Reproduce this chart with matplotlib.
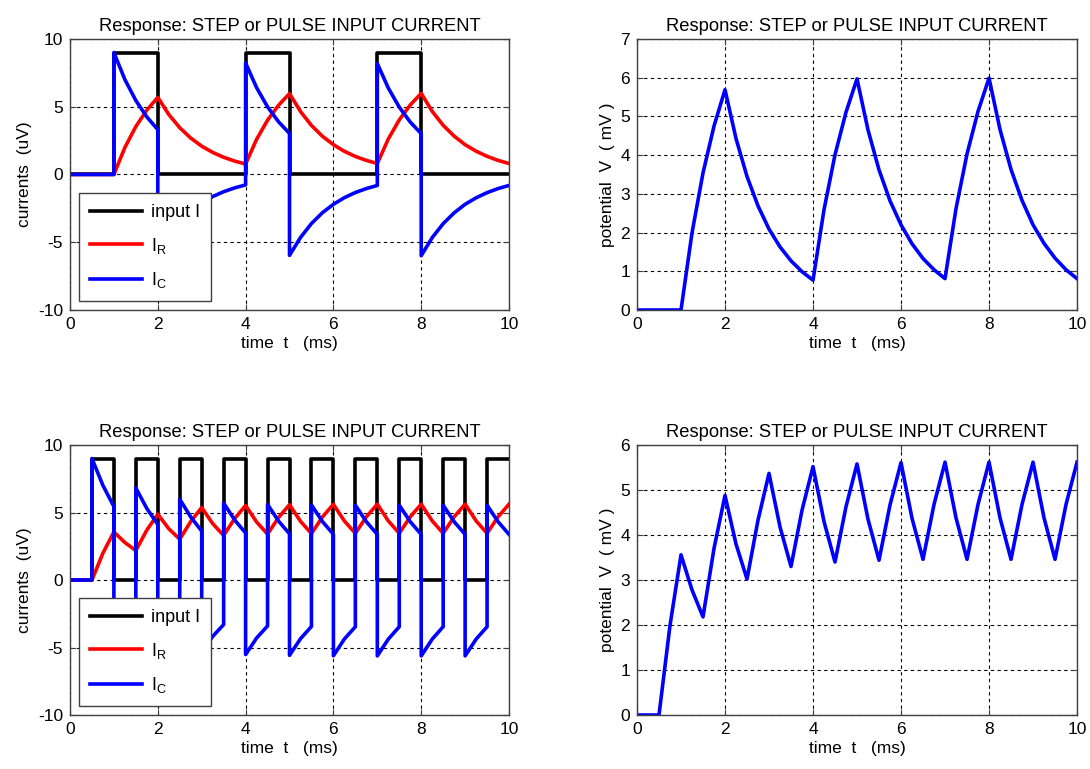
import matplotlib
matplotlib.use("Agg")
import matplotlib.pyplot as plt

plt.rcParams['font.family'] = ['Liberation Sans', 'DejaVu Sans']
plt.rcParams['mathtext.fontset'] = 'custom'
plt.rcParams['mathtext.rm'] = 'Liberation Sans'
plt.rcParams['axes.unicode_minus'] = False

# ---- top row: single pulses of 1 ms every 3 ms ----
t_in_top = [0, 1, 2, 4, 5, 7, 8, 10]
i_in_top = [0, 9, 0, 9, 0, 9, 0, 0]

t_top = [0, 0.25, 0.5, 0.75, 1, 1.25, 1.5, 1.75, 2, 2.25, 2.5, 2.75, 3, 3.25, 3.5, 3.75,
         4, 4.25, 4.5, 4.75, 5, 5.25, 5.5, 5.75, 6, 6.25, 6.5, 6.75, 7, 7.25, 7.5, 7.75,
         8, 8.25, 8.5, 8.75, 9, 9.25, 9.5, 9.75, 10]
ir_top = [0, 0, 0, 0, 0, 1.99, 3.54, 4.75, 5.69, 4.43, 3.45, 2.69, 2.09, 1.63, 1.27, 0.99,
          0.77, 2.59, 4.01, 5.11, 5.97, 4.65, 3.62, 2.82, 2.20, 1.71, 1.33, 1.04, 0.81, 2.62,
          4.03, 5.13, 5.99, 4.66, 3.63, 2.83, 2.20, 1.72, 1.34, 1.04, 0.81]

t_c_top = [0, 1, 1, 1.25, 1.5, 1.75, 2, 2, 2.25, 2.5, 2.75, 3, 3.25, 3.5, 3.75, 4, 4,
           4.25, 4.5, 4.75, 5, 5, 5.25, 5.5, 5.75, 6, 6.25, 6.5, 6.75, 7, 7,
           7.25, 7.5, 7.75, 8, 8, 8.25, 8.5, 8.75, 9, 9.25, 9.5, 9.75, 10]
ic_top = [0, 0, 9, 7.01, 5.46, 4.25, 3.31, -5.69, -4.43, -3.45, -2.69, -2.09, -1.63, -1.27, -0.99, -0.77, 8.23,
          6.41, 4.99, 3.89, 3.03, -5.97, -4.65, -3.62, -2.82, -2.20, -1.71, -1.33, -1.04, -0.81, 8.19,
          6.38, 4.97, 3.87, 3.01, -5.99, -4.66, -3.63, -2.83, -2.20, -1.72, -1.34, -1.04, -0.81]

# ---- bottom row: 0.5 ms pulses every 1 ms ----
t_in_bot = [0, 0.5, 1, 1.5, 2, 2.5, 3, 3.5, 4, 4.5, 5, 5.5, 6, 6.5, 7, 7.5, 8, 8.5, 9, 9.5, 10]
i_in_bot = [0, 9, 0, 9, 0, 9, 0, 9, 0, 9, 0, 9, 0, 9, 0, 9, 0, 9, 0, 9, 9]

t_bot = t_top
ir_bot = [0, 0, 0, 1.99, 3.56, 2.78, 2.18, 3.70, 4.88, 3.80, 3.02, 4.33, 5.37, 4.18, 3.30,
          4.55, 5.52, 4.30, 3.40, 4.63, 5.58, 4.35, 3.44, 4.67, 5.61, 4.37, 3.46, 4.68, 5.62,
          4.38, 3.46, 4.68, 5.62, 4.38, 3.46, 4.68, 5.62, 4.38, 3.46, 4.68, 5.62]

t_c_bot = [0, 0.5, 0.5, 0.75, 1, 1, 1.25, 1.5, 1.5, 1.75, 2, 2, 2.25, 2.5, 2.5, 2.75, 3, 3,
           3.25, 3.5, 3.5, 3.75, 4, 4, 4.25, 4.5, 4.5, 4.75, 5, 5, 5.25, 5.5, 5.5, 5.75, 6, 6,
           6.25, 6.5, 6.5, 6.75, 7, 7, 7.25, 7.5, 7.5, 7.75, 8, 8, 8.25, 8.5, 8.5, 8.75, 9, 9,
           9.25, 9.5, 9.5, 9.75, 10]
ic_bot = [0, 0, 9, 7.01, 5.44, -3.56, -2.78, -2.18, 6.82, 5.30, 4.12, -4.88, -3.80, -3.02, 5.98,
          4.67, 3.63, -5.37, -4.18, -3.30, 5.70, 4.45, 3.48, -5.52, -4.30, -3.40, 5.60, 4.37,
          3.42, -5.58, -4.35, -3.44, 5.56, 4.33, 3.39, -5.61, -4.37, -3.46, 5.54, 4.32, 3.38,
          -5.62, -4.38, -3.46, 5.54, 4.32, 3.38, -5.62, -4.38, -3.46, 5.54, 4.32, 3.38,
          -5.62, -4.38, -3.46, 5.54, 4.32, 3.38]

title = 'Response: STEP or PULSE INPUT CURRENT'
xlab = 'time  t   (ms)'

fig = plt.figure(figsize=(10.9, 7.69), dpi=100)
ax_tl = fig.add_axes([0.0642, 0.5969, 0.4028, 0.3524])
ax_tr = fig.add_axes([0.5844, 0.5969, 0.4037, 0.3524])
ax_bl = fig.add_axes([0.0642, 0.0702, 0.4028, 0.3511])
ax_br = fig.add_axes([0.5844, 0.0702, 0.4037, 0.3511])


def style(ax, ymin, ymax, yticks, ylabel):
    ax.set_xlim(0, 10)
    ax.set_ylim(ymin, ymax)
    ax.set_xticks(range(0, 11, 2))
    ax.set_yticks(yticks)
    ax.grid(True, color='black', linestyle=(0, (3, 3)), linewidth=0.8)
    ax.set_axisbelow(True)
    ax.tick_params(direction='in', length=4, labelsize=12.5, top=True, right=True,
                   color='#404040', pad=5)
    for s in ax.spines.values():
        s.set_color('#404040')
        s.set_linewidth(1.0)
    ax.set_title(title, fontsize=13.2, pad=6)
    ax.set_xlabel(xlab, fontsize=12.5, labelpad=3)
    ax.set_ylabel(ylabel, fontsize=12.5, labelpad=4)


def currents(ax, t_in, i_in, t, ir, t_c, ic):
    ax.plot(t_in, i_in, color='black', lw=2.6, drawstyle='steps-post', label='input I')
    ax.plot(t, ir, color='red', lw=2.6, solid_joinstyle='round', label=r'I$_\mathrm{R}$')
    ax.plot(t_c, ic, color='blue', lw=2.6, solid_joinstyle='round', label=r'I$_\mathrm{C}$')
    style(ax, -10, 10, [-10, -5, 0, 5, 10], 'currents  (uV)')
    leg = ax.legend(loc='lower left', fontsize=13, framealpha=1, fancybox=False,
                    edgecolor='#404040', handlelength=2.9, labelspacing=0.8,
                    borderaxespad=0.5, borderpad=0.6, handletextpad=0.5)
    leg.get_frame().set_linewidth(1.0)


currents(ax_tl, t_in_top, i_in_top, t_top, ir_top, t_c_top, ic_top)
currents(ax_bl, t_in_bot, i_in_bot, t_bot, ir_bot, t_c_bot, ic_bot)

ax_tr.plot(t_top, ir_top, color='blue', lw=2.6, solid_joinstyle='round')
style(ax_tr, 0, 7, range(0, 8), 'potential  V  ( mV )')
ax_br.plot(t_bot, ir_bot, color='blue', lw=2.6, solid_joinstyle='round')
style(ax_br, 0, 6, range(0, 7), 'potential  V  ( mV )')

fig.savefig('out.png', dpi=100)
